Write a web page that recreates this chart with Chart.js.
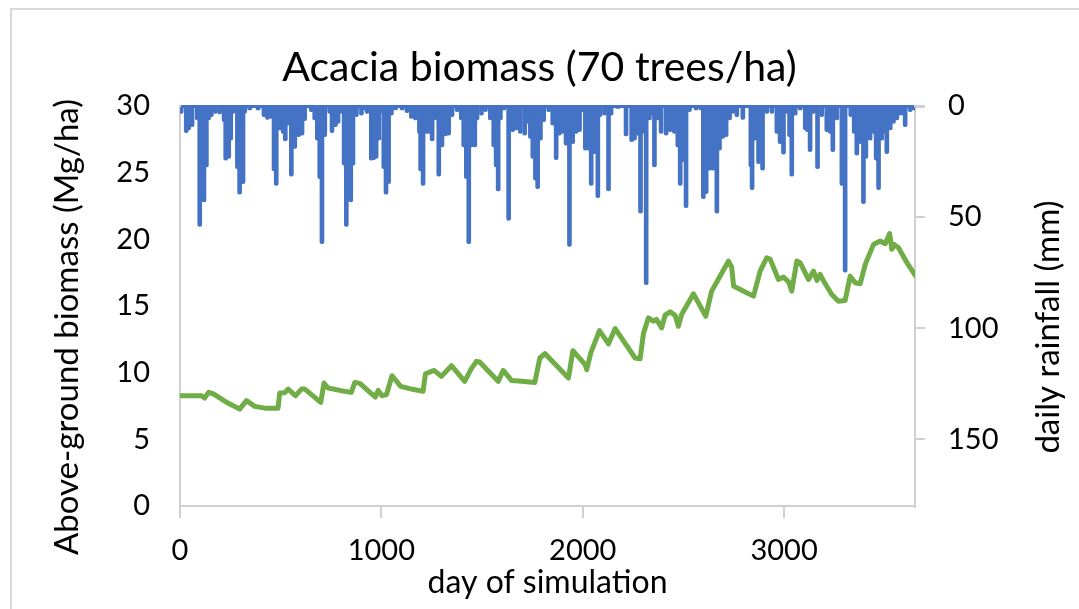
<!doctype html>
<html>
    <head>
        <meta charset="utf-8"/>
        <title>Acacia biomass</title>
        <script src="https://cdn.jsdelivr.net/npm/chart.js@4.4.1/dist/chart.umd.min.js"></script>
        <style>
            body { margin: 0; background: #fff; }
            #wrap { position: relative; width: 1079px; height: 609px; overflow: hidden; }
            #frame { position: absolute; left: 10px; top: 8px; width: 1200px; height: 800px;
                     border-top: 2px solid #d9d9d9; border-left: 2px solid #d9d9d9; }
            canvas { position: absolute; left: 0; top: 0; }
        </style>
    </head>
    <body>
        <div id="wrap">
            <div id="frame"></div>
            <canvas id="myChart" width="1079" height="609"></canvas>
        </div>

        <script>
            // daily rainfall events (day, mm)
            var rainDays = [6, 31, 43, 60, 86, 98, 109, 119, 131, 142, 156, 176, 197, 219, 227, 242, 252, 263, 285, 296,
                313, 321, 346, 388, 417, 434, 450, 467, 478, 495, 512, 523, 536, 553, 570, 589, 606, 619, 652, 669,
                682, 694, 705, 719, 743, 755, 772, 785, 805, 815, 826, 838, 848, 859, 876, 901, 917, 929, 950, 962,
                974, 987, 995, 1012, 1023, 1036, 1050, 1070, 1103, 1127, 1149, 1169, 1189, 1195, 1207, 1222, 1235, 1252, 1265, 1285,
                1301, 1318, 1334, 1351, 1376, 1397, 1409, 1422, 1434, 1447, 1464, 1475, 1497, 1517, 1541, 1558, 1570, 1580, 1591, 1608,
                1632, 1652, 1669, 1690, 1712, 1728, 1740, 1752, 1765, 1776, 1790, 1806, 1831, 1851, 1868, 1884, 1901, 1917, 1934, 1950,
                1967, 1984, 2000, 2013, 2030, 2042, 2058, 2075, 2086, 2108, 2128, 2141, 2174, 2215, 2243, 2257, 2273, 2287, 2301, 2315,
                2331, 2344, 2356, 2373, 2389, 2414, 2434, 2455, 2472, 2484, 2497, 2513, 2530, 2563, 2588, 2599, 2613, 2629, 2646, 2666,
                2679, 2695, 2712, 2729, 2745, 2765, 2795, 2835, 2841, 2856, 2873, 2893, 2914, 2939, 2964, 2980, 2997, 3013, 3027, 3038,
                3055, 3080, 3105, 3116, 3129, 3146, 3166, 3187, 3212, 3229, 3242, 3262, 3287, 3303, 3331, 3348, 3361, 3381, 3394, 3406,
                3427, 3444, 3457, 3469, 3485, 3497, 3510, 3527, 3543, 3560, 3580, 3601, 3626, 3646];
            var rainMm = [3.3, 12, 10.8, 9.3, 6.3, 54.2, 42.5, 43.2, 27.4, 6.3, 4.8, 3.3, 3.6, 7.1, 24.4, 23.6, 15.4, 3.3, 28.2, 39.7,
                35, 3.3, 1.8, 1.8, 4.8, 6, 5.6, 29.2, 35.7, 10.8, 12.3, 15.7, 8.6, 31.6, 19.1, 13.8, 13.1, 6.6, 2.6, 6.3,
                15.4, 32.7, 62, 13.8, 3.3, 12, 9.3, 7.8, 3.3, 26.6, 54.2, 42.5, 43.2, 26.6, 4.8, 4.1, 1.8, 3.3, 24.4, 24.1,
                23.6, 15.4, 3.3, 28.2, 39.7, 35, 4.1, 1.8, 1.8, 3, 5.6, 6.3, 12.3, 29.2, 35.7, 12.3, 12.3, 15.7, 6.3, 31.6,
                18.4, 13.5, 13.1, 4.8, 2.6, 6.3, 18.4, 32.7, 62, 18.4, 18.4, 6.3, 4.1, 2.6, 6.3, 18.4, 27.4, 38.2, 6.3, 1.8,
                51.5, 11.6, 10.8, 12.3, 13.1, 7.8, 14.6, 23.6, 33.4, 37.2, 15.4, 7.1, 2.6, 8.6, 24.1, 13.1, 12.3, 17.6, 63.2, 16.9,
                12.3, 11.6, 2.6, 19.9, 19.9, 35.7, 21.4, 41.3, 4.8, 4.1, 38.2, 4.1, 1.1, 13.5, 16.1, 15.4, 13.1, 48.2, 12.3, 80.4,
                6.3, 4.1, 27.4, 6.3, 12.3, 13.1, 11.6, 12.3, 18.4, 35.7, 25.1, 45.8, 2.6, 1.8, 1.8, 41.7, 39.4, 28.9, 28.9, 48.2,
                19.9, 14.6, 13.8, 6.3, 3.3, 4.8, 6, 27.4, 37.6, 15.4, 25.9, 28.9, 3.3, 3.3, 12.3, 16.9, 21.7, 3.3, 13.8, 31.6,
                4.1, 1.8, 10.8, 11.6, 20.6, 3.3, 28.2, 4.8, 11.6, 12.3, 20.6, 6.3, 35.7, 74.8, 4.8, 12.3, 22.1, 16.9, 44, 23.6,
                15.4, 12.3, 24.4, 37.6, 15.4, 12.3, 21.4, 10.8, 7.8, 6.3, 4.1, 9.3, 2.6, 1.8];

            // above-ground biomass (Mg/ha)
            var bioDays = [0, 106, 122, 142, 164, 238, 296, 330, 371, 421, 487, 495, 520, 537, 573, 603, 620, 699, 715, 735,
                801, 851, 868, 893, 970, 984, 1003, 1025, 1053, 1096, 1149, 1207, 1219, 1262, 1298, 1348, 1414, 1444, 1472, 1488,
                1580, 1605, 1646, 1696, 1762, 1787, 1812, 1929, 1951, 2012, 2020, 2040, 2083, 2128, 2161, 2260, 2285, 2302, 2326, 2351,
                2366, 2392, 2409, 2434, 2459, 2475, 2491, 2550, 2611, 2640, 2724, 2740, 2749, 2782, 2848, 2881, 2914, 2931, 2972, 2997,
                3022, 3038, 3063, 3080, 3121, 3146, 3163, 3179, 3196, 3237, 3270, 3303, 3328, 3353, 3378, 3403, 3444, 3477, 3502, 3524,
                3535, 3546, 3568, 3610, 3650];
            var biomass = [8.27, 8.27, 8.1, 8.52, 8.42, 7.72, 7.27, 7.9, 7.47, 7.34, 7.34, 8.47, 8.5, 8.77, 8.27, 8.77, 8.77, 7.77, 9.22, 8.85,
                8.65, 8.52, 9.27, 9.2, 8.17, 8.67, 8.27, 8.35, 9.77, 8.97, 8.77, 8.6, 9.92, 10.17, 9.72, 10.52, 9.35, 10.23, 10.85, 10.8,
                9.35, 10.17, 9.42, 9.35, 9.27, 11.1, 11.43, 9.6, 11.65, 10.6, 10.23, 11.48, 13.16, 12.16, 13.31, 11.1, 11.05, 12.98, 14.11, 13.86,
                14.0, 13.36, 14.31, 14.56, 14.3, 13.48, 14.36, 15.91, 14.23, 16.11, 18.37, 17.9, 16.49, 16.24, 15.74, 17.62, 18.62, 18.5, 16.99, 17.17,
                16.82, 16.11, 18.37, 18.24, 16.99, 17.62, 16.92, 17.37, 16.87, 15.86, 15.36, 15.41, 17.24, 16.74, 16.67, 18.12, 19.62, 19.87, 19.67, 20.43,
                19.25, 19.62, 19.37, 18.25, 17.32];

            var leftTicks = [0, 5, 10, 15, 20, 25, 30];
            var rightTicks = [0, 50, 100, 150];
            var dayTicks = [0, 1000, 2000, 3000];

            var rainData = rainDays.map(function (d, i) { return { x: d, y: rainMm[i] }; });
            var bioData = bioDays.map(function (d, i) { return { x: d, y: biomass[i] }; });

            Chart.defaults.font.family = 'Lato';
            Chart.defaults.color = '#000';

            var tickFont = { size: 29, lineHeight: 1 };

            // both vertical axis titles read bottom-to-top, as in Excel
            var sideTitles = {
                id: 'sideTitles',
                afterDraw: function (chart) {
                    var ctx = chart.ctx;
                    ctx.save();
                    ctx.fillStyle = '#000';
                    ctx.font = '33px Lato';
                    ctx.textAlign = 'center';
                    ctx.textBaseline = 'middle';
                    [[67, 327, 'Above-ground biomass (Mg/ha)'], [1048, 327, 'daily rainfall (mm)']].forEach(function (t) {
                        ctx.save();
                        ctx.translate(t[0], t[1]);
                        ctx.rotate(-Math.PI / 2);
                        ctx.fillText(t[2], 0, 0);
                        ctx.restore();
                    });
                    ctx.restore();
                }
            };

            var config = {
                type: 'bar',
                data: {
                    datasets: [{
                        type: 'line',
                        label: 'Biomass',
                        data: bioData,
                        yAxisID: 'y',
                        borderColor: '#70AD47',
                        borderWidth: 5,
                        borderJoinStyle: 'round',
                        borderCapStyle: 'round',
                        pointRadius: 0,
                        tension: 0,
                        order: 0
                    }, {
                        type: 'bar',
                        label: 'Rainfall',
                        data: rainData,
                        yAxisID: 'y2',
                        backgroundColor: '#4472C4',
                        barThickness: 4,
                        borderRadius: 2,
                        order: 1
                    }]
                },
                options: {
                    responsive: false,
                    animation: false,
                    layout: { padding: 0 },
                    plugins: {
                        legend: { display: false },
                        tooltip: { enabled: false },
                        title: {
                            display: true,
                            text: 'Acacia biomass (70 trees/ha)',
                            color: '#000',
                            font: { size: 41, weight: 'normal', lineHeight: 1 },
                            padding: { top: 47, bottom: 18 }
                        }
                    },
                    scales: {
                        x: {
                            type: 'linear',
                            min: 0,
                            max: 3650,
                            offset: false,
                            afterBuildTicks: function (s) { s.ticks = dayTicks.map(function (v) { return { value: v }; }); },
                            afterFit: function (s) { s.height = 103; },
                            grid: { display: true, offset: false, drawOnChartArea: false, tickLength: 12, color: '#d0d0d0', lineWidth: 2 },
                            border: { color: '#d0d0d0', width: 2 },
                            ticks: {
                                font: tickFont, padding: 18, maxRotation: 0, autoSkip: false,
                                callback: function (v) { return String(v); }
                            },
                            title: { display: true, text: 'day of simulation', font: { size: 32, lineHeight: 1 }, padding: { top: 2, bottom: 10 } }
                        },
                        y: {
                            position: 'left',
                            min: 0,
                            max: 30,
                            afterBuildTicks: function (s) { s.ticks = leftTicks.map(function (v) { return { value: v }; }); },
                            afterFit: function (s) { s.width = 180; },
                            grid: { display: false, drawTicks: false },
                            border: { display: true, color: '#d0d0d0', width: 2 },
                            ticks: { font: tickFont, padding: 30 }
                        },
                        y2: {
                            position: 'right',
                            reverse: true,
                            min: 0,
                            max: 180,
                            afterBuildTicks: function (s) { s.ticks = rightTicks.map(function (v) { return { value: v }; }); },
                            afterFit: function (s) { s.width = 164; },
                            grid: {
                                display: true,
                                drawOnChartArea: true,
                                tickLength: 10,
                                tickColor: '#d0d0d0',
                                color: function (ctx) { return ctx.tick && ctx.tick.value === 0 ? '#4472C4' : 'rgba(0,0,0,0)'; },
                                lineWidth: function (ctx) { return ctx.tick && ctx.tick.value === 0 ? 3 : 2; }
                            },
                            border: { display: true, color: '#d0d0d0', width: 2 },
                            ticks: { font: tickFont, padding: 23 }
                        }
                    }
                },
                plugins: [sideTitles]
            };

            var myChart = new Chart(document.getElementById('myChart'), config);
        </script>
    </body>
</html>
